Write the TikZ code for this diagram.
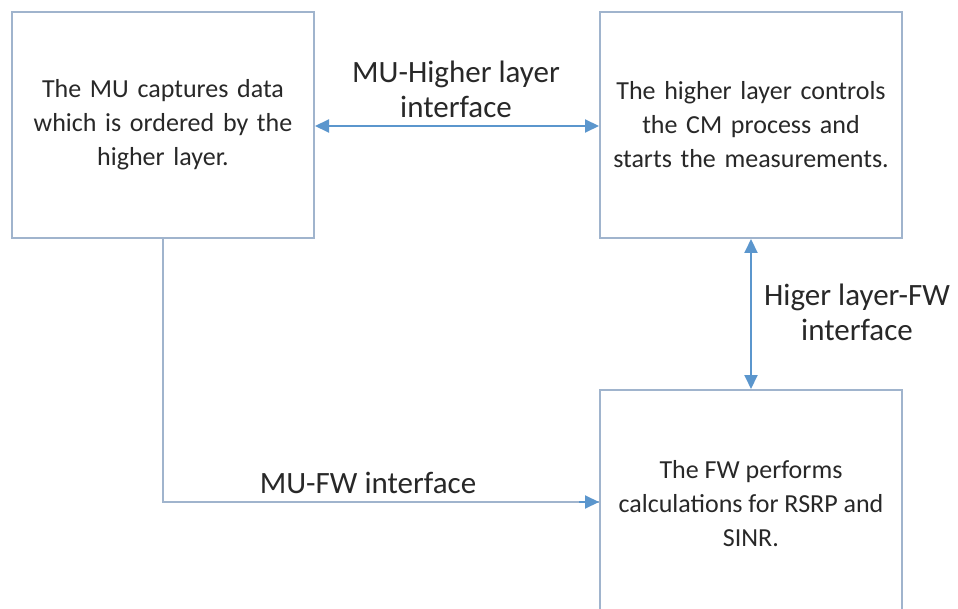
\documentclass[tikz,border=0pt]{standalone}
\usepackage{fontspec}
\setmainfont{Carlito}
\usetikzlibrary{arrows.meta}
\definecolor{boxline}{RGB}{160,180,205}
\definecolor{arrowblue}{RGB}{91,150,205}
\definecolor{txt}{RGB}{40,40,40}
\tikzset{
  blk/.style={draw=boxline, line width=2pt, minimum width=302pt, text width=290pt, align=center,
    inner sep=0pt, text=txt, font=\fontsize{26}{34}\selectfont},
  lbl/.style={align=center, text=txt, inner sep=0pt, font=\fontsize{31}{35}\selectfont},
  conn/.style={draw=boxline, line width=2pt},
  arr/.style={arrowblue, line width=2pt},
  tipshape/.tip={Triangle[length=14pt,width=13pt]}
}
\begin{document}
\begin{tikzpicture}[x=1pt,y=-1pt]
\useasboundingbox (0,0) rectangle (958,609);
\fill[white] (0,0) rectangle (958,609);
\clip (0,0) rectangle (958,609);
\node[blk, minimum height=226pt] (mu) at (163,125) {The MU captures data\\which is ordered by the\\higher layer.};
\node[blk, minimum height=226pt] (hl) at (751,125) {The higher layer controls\\the CM process and\\starts the measurements.};
\node[blk, minimum height=240pt, anchor=north] (fw) at (751,389) {};
\node[align=center, text=txt, font=\fontsize{26}{34}\selectfont, inner sep=0pt] (fwt) at (751,504) {The FW performs\\calculations for RSRP and\\SINR.};
\draw[arr, tipshape-tipshape] (mu.east |- 0,126) -- (hl.west |- 0,126);
\draw[arr, tipshape-tipshape] (hl.south) -- (fw.north);
\coordinate (bend) at (163,502);
\draw[conn] (mu.south) -- (bend) -- (fw.west |- bend);
\draw[arr, -tipshape] ([xshift=-20pt]fw.west |- bend) -- (fw.west |- bend);
\node[lbl] (l1) at (456,89) {MU-Higher layer\\interface};
\node[lbl] (l2) at (857,312) {Higer layer-FW\\interface};
\node[lbl, anchor=base] (l3) at (368,493) {MU-FW interface};
\end{tikzpicture}
\end{document}
